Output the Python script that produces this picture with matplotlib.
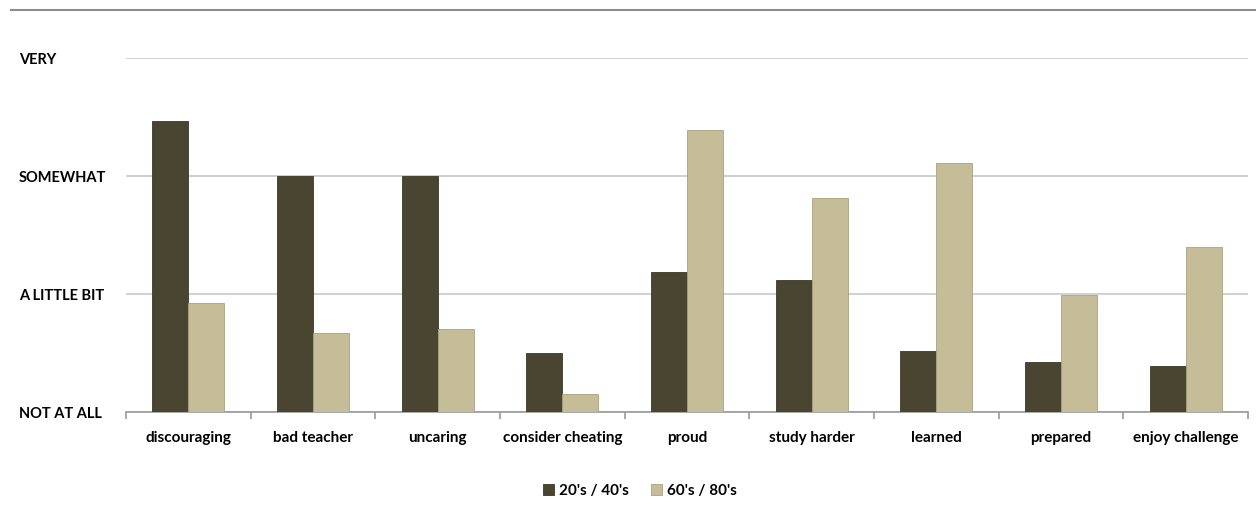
import matplotlib.pyplot as plt
import numpy as np
from matplotlib.lines import Line2D

# survey categories and mean rating per age group (0 = not at all .. 3 = very)
categories = ["discouraging", "bad teacher", "uncaring", "consider cheating", "proud",
              "study harder", "learned", "prepared", "enjoy challenge"]
young = [2.47, 2.0, 2.0, 0.5, 1.19, 1.12, 0.52, 0.42, 0.39]
older = [0.92, 0.67, 0.70, 0.15, 2.39, 1.81, 2.11, 0.99, 1.40]
levels = ["NOT AT ALL", "A LITTLE BIT", "SOMEWHAT", "VERY"]

dark = "#4a4530"
light = "#c4bd97"

plt.rcParams["font.family"] = ["Lato", "DejaVu Sans"]
plt.rcParams["font.weight"] = "bold"

fig = plt.figure(figsize=(12.56, 5.12), dpi=100)
ax = fig.add_axes([126 / 1256, 1 - 412 / 512, (1248 - 126) / 1256, (412 - 58) / 512])

x = np.arange(len(categories))
width = 0.29
ax.bar(x - width / 2, young, width, color=dark, edgecolor="#3c3826", linewidth=0.6,
       label="20's / 40's", zorder=3)
ax.bar(x + width / 2, older, width, color=light, edgecolor="#a8a282", linewidth=0.6,
       label="60's / 80's", zorder=3)

ax.set_xlim(-0.5, len(categories) - 0.5)
ax.set_ylim(0, 3)
ax.set_yticks(range(4))
ax.set_yticklabels(levels, ha="left", fontsize=10.5, fontweight="bold")
ax.tick_params(axis="y", length=0, pad=77)
ax.yaxis.grid(True, color="#c8c8c8", linewidth=1.2, zorder=0)

ax.set_xticks(x)
ax.set_xticklabels(categories, fontsize=11, fontweight="bold")
ax.set_xticks(np.arange(-0.5, len(categories)), minor=True)
ax.tick_params(axis="x", which="major", length=0, pad=14)
ax.tick_params(axis="x", which="minor", length=5, color="#999999", width=1.2)

for side in ["top", "right", "left"]:
    ax.spines[side].set_visible(False)
ax.spines["bottom"].set_color("#999999")
ax.spines["bottom"].set_linewidth(1.2)

# thin rule across the top of the figure
fig.add_artist(Line2D([11 / 1256, 1], [1 - 10 / 512] * 2, color="#8c8c8c", linewidth=1.5))

fig.legend(loc="center", bbox_to_anchor=(640 / 1256, 1 - 491 / 512), ncol=2, frameon=False,
           fontsize=11, handlelength=0.7, handleheight=0.7, handletextpad=0.3,
           columnspacing=1.5)

plt.savefig("out.png", dpi=100)
